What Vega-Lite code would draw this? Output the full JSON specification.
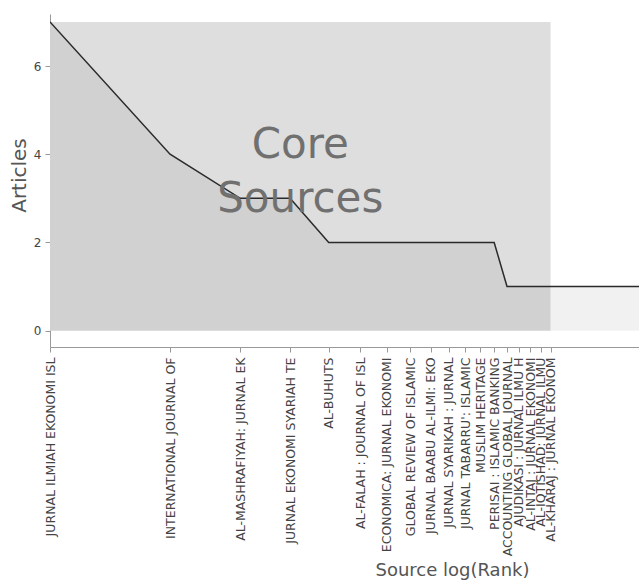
{
  "$schema": "https://vega.github.io/schema/vega-lite/v6.json",
  "autosize": {"type": "none"},
  "padding": {"left": 50, "top": 14, "right": 0, "bottom": 235},
  "width": 589,
  "height": 333,
  "background": "white",
  "config": {
    "view": {"stroke": null},
    "font": "DejaVu Sans",
    "axis": {"labelFont": "DejaVu Sans", "titleFont": "DejaVu Sans", "titleFontWeight": "normal"}
  },
  "data": {
    "values": [
      {"rank": 1, "source": "JURNAL ILMIAH EKONOMI ISL", "articles": 7},
      {"rank": 2, "source": "INTERNATIONAL JOURNAL OF", "articles": 4},
      {"rank": 3, "source": "AL-MASHRAFIYAH: JURNAL EK", "articles": 3},
      {"rank": 4, "source": "JURNAL EKONOMI SYARIAH TE", "articles": 3},
      {"rank": 5, "source": "AL-BUHUTS", "articles": 2},
      {"rank": 6, "source": "AL-FALAH : JOURNAL OF ISL", "articles": 2},
      {"rank": 7, "source": "ECONOMICA: JURNAL EKONOMI", "articles": 2},
      {"rank": 8, "source": "GLOBAL REVIEW OF ISLAMIC", "articles": 2},
      {"rank": 9, "source": "JURNAL BAABU AL-ILMI: EKO", "articles": 2},
      {"rank": 10, "source": "JURNAL SYARIKAH : JURNAL", "articles": 2},
      {"rank": 11, "source": "JURNAL TABARRU': ISLAMIC", "articles": 2},
      {"rank": 12, "source": "MUSLIM HERITAGE", "articles": 2},
      {"rank": 13, "source": "PERISAI : ISLAMIC BANKING", "articles": 2},
      {"rank": 14, "source": "ACCOUNTING GLOBAL JOURNAL", "articles": 1},
      {"rank": 15, "source": "AJUDIKASI : JURNAL ILMU H", "articles": 1},
      {"rank": 16, "source": "AL-INTAJ : JURNAL EKONOMI", "articles": 1},
      {"rank": 17, "source": "AL-IQTISHAD: JURNAL ILMU", "articles": 1},
      {"rank": 18, "source": "AL-KHARAJ : JURNAL EKONOM", "articles": 1},
      {"rank": 19, "articles": 1},
      {"rank": 20, "articles": 1},
      {"rank": 21, "articles": 1},
      {"rank": 22, "articles": 1},
      {"rank": 23, "articles": 1},
      {"rank": 24, "articles": 1},
      {"rank": 25, "articles": 1},
      {"rank": 26, "articles": 1},
      {"rank": 27, "articles": 1},
      {"rank": 28, "articles": 1},
      {"rank": 29, "articles": 1},
      {"rank": 30, "articles": 1}
    ]
  },
  "layer": [
    {
      "data": {"values": [{"zoneStart": 1, "zoneEnd": 18, "zoneBase": 0, "zoneTop": 7}]},
      "mark": {"type": "rect", "color": "#dedede"},
      "encoding": {
        "x": {"field": "zoneStart", "type": "quantitative", "scale": {"type": "log", "domain": [1, 30], "nice": false}},
        "x2": {"field": "zoneEnd"},
        "y": {"field": "zoneBase", "type": "quantitative"},
        "y2": {"field": "zoneTop"}
      }
    },
    {
      "mark": {"type": "area", "color": "black", "opacity": 0.055, "clip": true},
      "encoding": {
        "x": {"field": "rank", "type": "quantitative"},
        "y": {"field": "articles", "type": "quantitative"}
      }
    },
    {
      "mark": {"type": "line", "color": "#2a2a2a", "strokeWidth": 1.5, "clip": true},
      "encoding": {
        "x": {
          "field": "rank",
          "type": "quantitative",
          "scale": {"type": "log", "domain": [1, 30], "nice": false},
          "axis": {
            "title": "Source log(Rank)",
            "values": [1, 2, 3, 4, 5, 6, 7, 8, 9, 10, 11, 12, 13, 14, 15, 16, 17, 18],
            "labelExpr": "[\"JURNAL ILMIAH EKONOMI ISL\", \"INTERNATIONAL JOURNAL OF\", \"AL-MASHRAFIYAH: JURNAL EK\", \"JURNAL EKONOMI SYARIAH TE\", \"AL-BUHUTS\", \"AL-FALAH : JOURNAL OF ISL\", \"ECONOMICA: JURNAL EKONOMI\", \"GLOBAL REVIEW OF ISLAMIC\", \"JURNAL BAABU AL-ILMI: EKO\", \"JURNAL SYARIKAH : JURNAL\", \"JURNAL TABARRU': ISLAMIC\", \"MUSLIM HERITAGE\", \"PERISAI : ISLAMIC BANKING\", \"ACCOUNTING GLOBAL JOURNAL\", \"AJUDIKASI : JURNAL ILMU H\", \"AL-INTAJ : JURNAL EKONOMI\", \"AL-IQTISHAD: JURNAL ILMU\", \"AL-KHARAJ : JURNAL EKONOM\"][datum.value - 1]",
            "labelAngle": -90,
            "labelAlign": "right",
            "labelBaseline": "middle",
            "labelOverlap": false,
            "labelBound": false,
            "labelFlush": false,
            "labelLimit": 400,
            "labelFontSize": 12.5,
            "labelColor": "#444444",
            "labelPadding": 5,
            "tickSize": 5,
            "tickColor": "#999999",
            "domainColor": "#999999",
            "grid": false,
            "titleFontSize": 18,
            "titleColor": "#555555",
            "titleX": 402,
            "titleY": 228,
            "titleAlign": "center",
            "titleBaseline": "alphabetic"
          }
        },
        "y": {
          "field": "articles",
          "type": "quantitative",
          "scale": {"domain": [-0.37, 7.18], "nice": false},
          "axis": {
            "title": "Articles",
            "values": [0, 2, 4, 6],
            "grid": false,
            "labelFontSize": 12,
            "labelColor": "#444444",
            "labelPadding": 4,
            "tickSize": 5,
            "tickColor": "#999999",
            "domainColor": "#999999",
            "titleFontSize": 20,
            "titleColor": "#555555",
            "titleX": -31,
            "titleY": 161,
            "titleAlign": "center",
            "titleBaseline": "middle",
            "titleAngle": -90
          }
        }
      }
    },
    {
      "data": {"values": [{"label": "Core Sources"}]},
      "mark": {
        "type": "text",
        "text": ["Core", "Sources"],
        "font": "DejaVu Sans",
        "fontSize": 42,
        "lineHeight": 54,
        "color": "#707070",
        "align": "center",
        "baseline": "alphabetic"
      },
      "encoding": {
        "x": {"datum": 4.2426, "type": "quantitative"},
        "y": {"datum": 3.91, "type": "quantitative"}
      }
    }
  ]
}
